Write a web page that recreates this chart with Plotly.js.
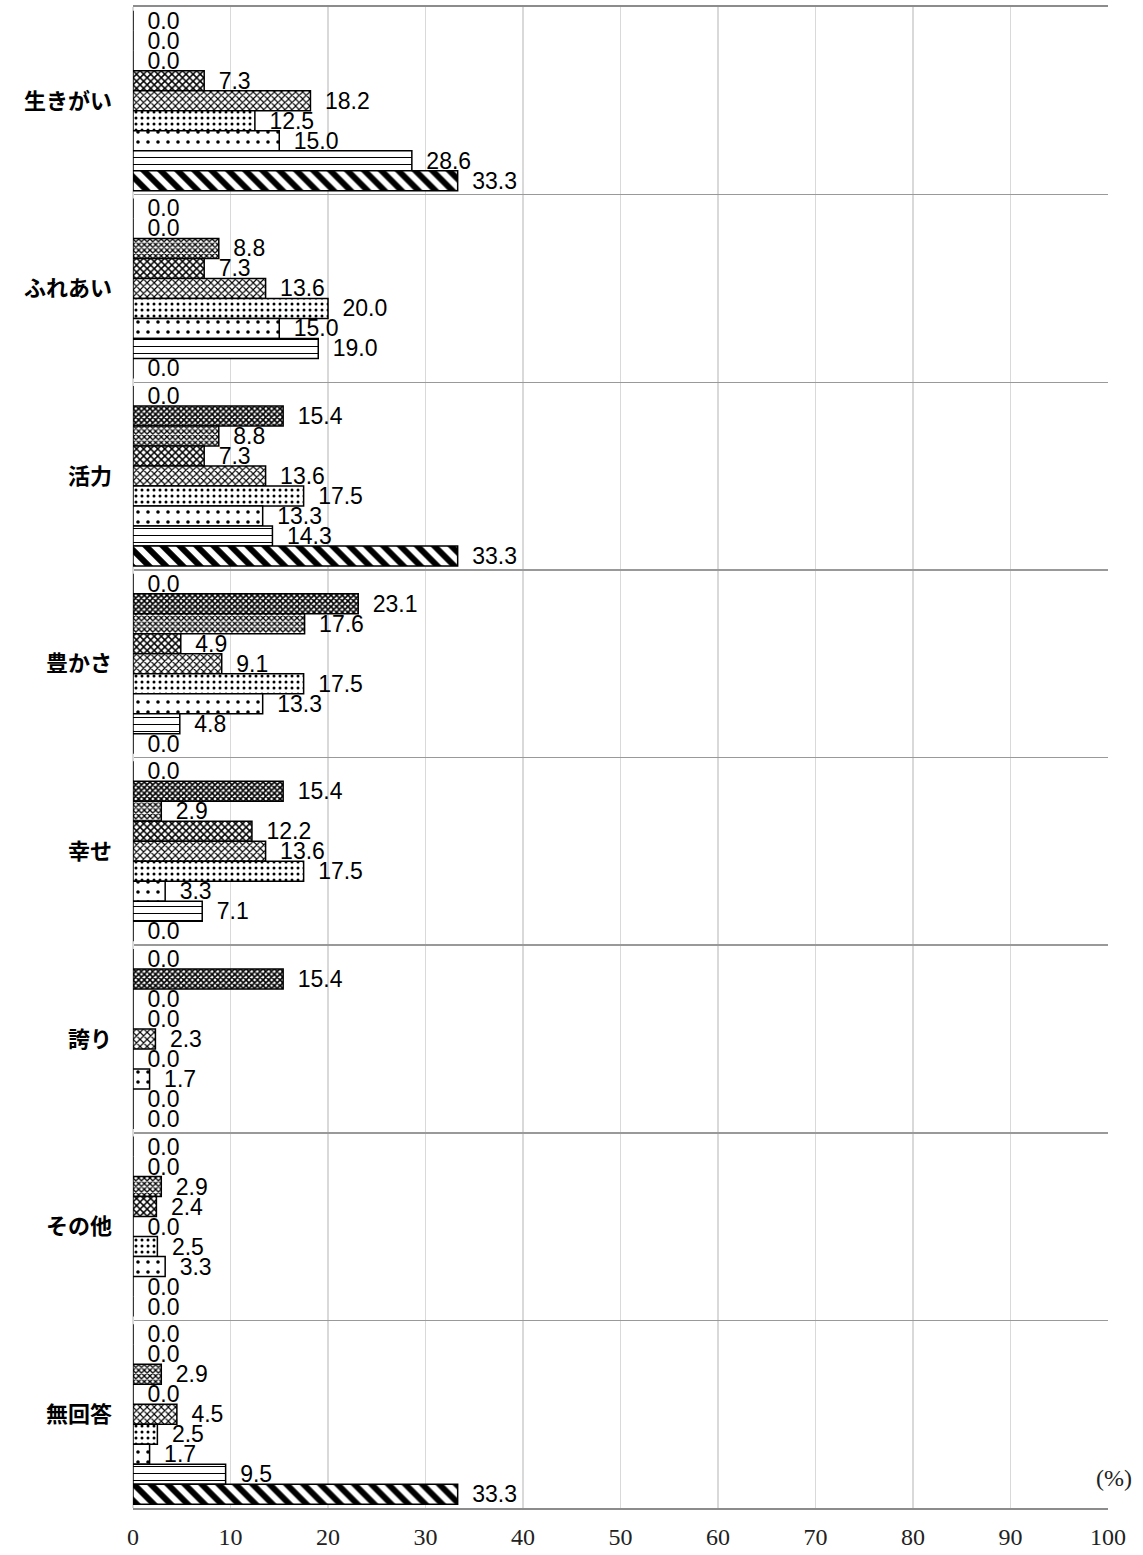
<!DOCTYPE html>
<html>
<head>
<meta charset="utf-8">
<script src="https://cdn.plot.ly/plotly-3.0.1.min.js"></script>
<style>
html,body{margin:0;padding:0;background:#fff;}
#chart{width:1143px;height:1555px;}
</style>
</head>
<body>
<div id="chart"></div>
<script>
const categories = ["生きがい", "ふれあい", "活力", "豊かさ", "幸せ", "誇り", "その他", "無回答"];
const series1 = [0.0, 0.0, 0.0, 0.0, 0.0, 0.0, 0.0, 0.0];
const series2 = [0.0, 0.0, 15.4, 23.1, 15.4, 15.4, 0.0, 0.0];
const series3 = [0.0, 8.8, 8.8, 17.6, 2.9, 0.0, 2.9, 2.9];
const series4 = [7.3, 7.3, 7.3, 4.9, 12.2, 0.0, 2.4, 0.0];
const series5 = [18.2, 13.6, 13.6, 9.1, 13.6, 2.3, 0.0, 4.5];
const series6 = [12.5, 20.0, 17.5, 17.5, 17.5, 0.0, 2.5, 2.5];
const series7 = [15.0, 15.0, 13.3, 13.3, 3.3, 1.7, 3.3, 1.7];
const series8 = [28.6, 19.0, 14.3, 4.8, 7.1, 0.0, 0.0, 9.5];
const series9 = [33.3, 0.0, 33.3, 0.0, 0.0, 0.0, 0.0, 33.3];
const xTicks = [0, 10, 20, 30, 40, 50, 60, 70, 80, 90, 100];

const allSeries = [series1, series2, series3, series4, series5, series6, series7, series8, series9];
const patterns = [
  {shape: "x", size: 4, solidity: 0.7},
  {shape: "x", size: 4, solidity: 0.65},
  {shape: "x", size: 4, solidity: 0.55},
  {shape: "x", size: 5, solidity: 0.5},
  {shape: "x", size: 5, solidity: 0.4},
  {shape: ".", size: 6, solidity: 0.2},
  {shape: ".", size: 10, solidity: 0.1},
  {shape: "-", size: 7, solidity: 0.15},
  {shape: "\\", size: 12, solidity: 0.5}
];

const labelFont = {family: "Liberation Sans, Arial, sans-serif", size: 23, color: "#000"};

const traces = allSeries.map((vals, i) => ({
  type: "bar",
  orientation: "h",
  x: vals,
  y: categories,
  name: "s" + (i + 1),
  marker: {
    color: "#ffffff",
    line: {color: "#000", width: 1.5},
    pattern: Object.assign({fgcolor: "#000", bgcolor: "#fff", fillmode: "replace"}, patterns[i])
  },
  texttemplate: "\u2002%{x:.1f}",
  textposition: "outside",
  constraintext: "none",
  cliponaxis: false,
  textfont: labelFont,
  hoverinfo: "skip"
}));

const layout = {
  width: 1143,
  height: 1555,
  margin: {l: 133, r: 35, t: 7, b: 47},
  barmode: "group",
  bargap: 0.04,
  bargroupgap: 0,
  showlegend: false,
  paper_bgcolor: "#fff",
  plot_bgcolor: "#fff",
  xaxis: {
    range: [0, 100],
    tickvals: xTicks,
    ticktext: xTicks.map(String),
    showgrid: true,
    gridcolor: "#d9d9d9",
    gridwidth: 1.5,
    zeroline: true,
    zerolinecolor: "#d9d9d9",
    zerolinewidth: 1.5,
    showline: true,
    mirror: true,
    linecolor: "#8c8c8c",
    linewidth: 2,
    ticks: "",
    ticklabelstandoff: 6,
    tickfont: {family: "Liberation Serif, DejaVu Serif, serif", size: 24, color: "#222"},
    fixedrange: true
  },
  yaxis: {
    type: "category",
    autorange: "reversed",
    tickson: "boundaries",
    showgrid: true,
    gridcolor: "#999999",
    gridwidth: 1.5,
    showline: false,
    ticks: "",
    ticklabelstandoff: 20,
    tickfont: {family: "Noto Sans CJK JP, sans-serif", size: 22, color: "#000", weight: "bold"},
    fixedrange: true
  },
  annotations: [{
    text: "(%)",
    xref: "paper", yref: "paper",
    x: 1.027, y: 0.02,
    xanchor: "right", yanchor: "middle",
    showarrow: false,
    font: {family: "Liberation Serif, DejaVu Serif, serif", size: 24, color: "#222"}
  }]
};

Plotly.newPlot("chart", traces, layout, {displayModeBar: false, staticPlot: true});
</script>
</body>
</html>
